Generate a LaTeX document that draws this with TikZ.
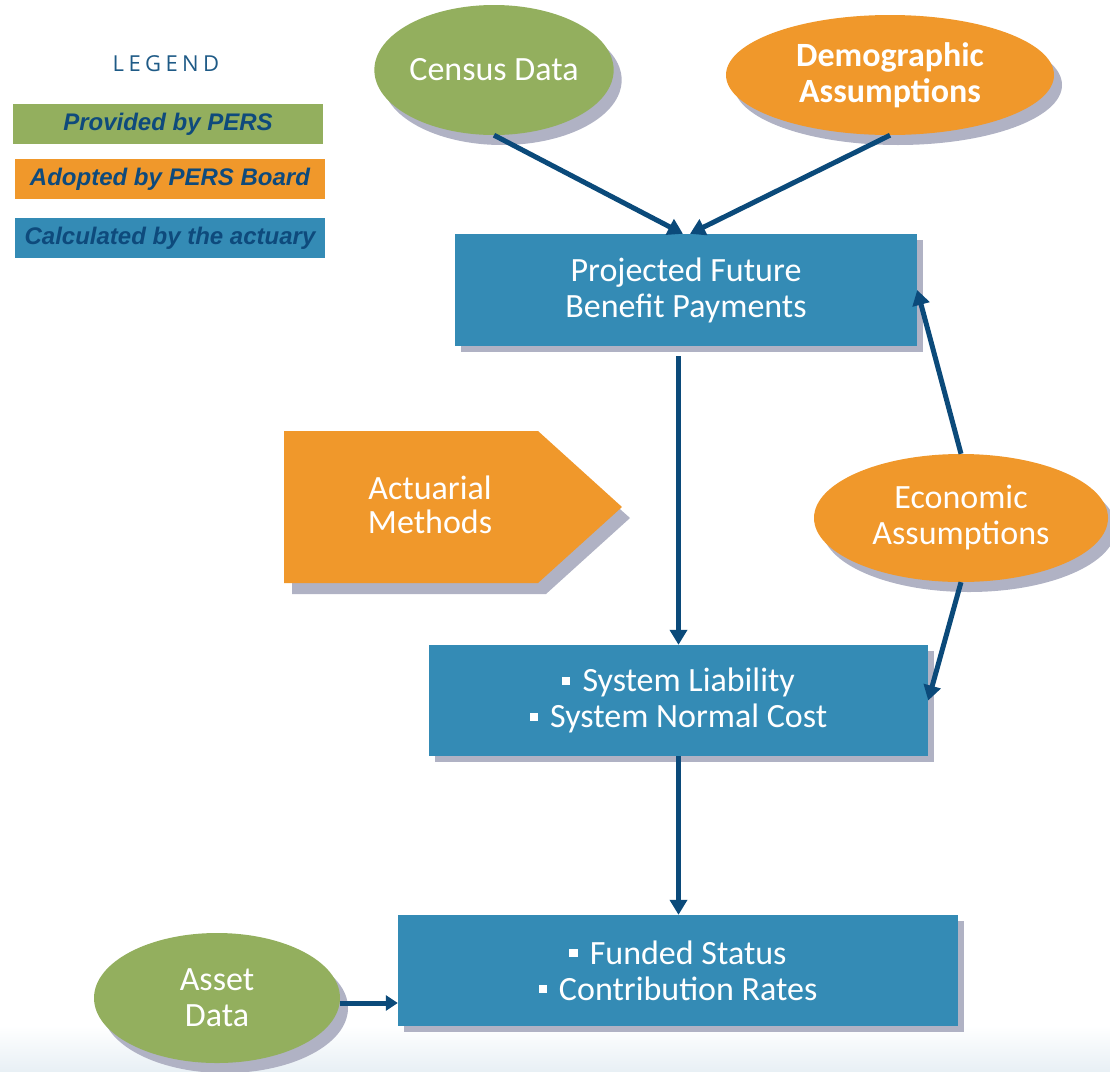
\documentclass[tikz,border=0pt]{standalone}
\usepackage{fontspec}
\setmainfont{Carlito}
\newfontfamily\arialfont{Liberation Sans}
\newfontfamily\legfont{Open Sans}[LetterSpace=20]
\usetikzlibrary{shapes.geometric,arrows.meta,shadows,calc}
\definecolor{greenc}{HTML}{93AF5E}
\definecolor{orangec}{HTML}{F0982B}
\definecolor{bluec}{HTML}{348BB5}
\definecolor{arrowc}{HTML}{0B4A7A}
\definecolor{shadowc}{HTML}{B0B2C4}
\definecolor{legtext}{HTML}{0E4A7C}
\definecolor{legtitle}{HTML}{1E5A86}
\definecolor{bgc}{HTML}{E8F0F5}
\newcommand{\bulsq}{\raisebox{0.2em}{\rule{0.24em}{0.24em}}\hspace{0.36em}}
\begin{document}
\begin{tikzpicture}[x=1pt,y=-1pt,
  eshad/.style={drop shadow={shadow xshift=8pt,shadow yshift=-10pt,fill=shadowc,opacity=1}},
  bshad/.style={drop shadow={shadow xshift=6pt,shadow yshift=-6pt,fill=shadowc,opacity=1}},
  ell/.style={ellipse,inner sep=0pt,text=white,align=center,font=\fontsize{34}{36}\selectfont,eshad},
  boxn/.style={rectangle,fill=bluec,inner sep=0pt,text=white,align=center,font=\fontsize{34}{36}\selectfont,bshad},
  legbox/.style={rectangle,inner sep=0pt,minimum width=310pt,minimum height=40pt,text=legtext,font=\arialfont\bfseries\itshape\fontsize{24}{26}\selectfont},
  arr/.style={draw=arrowc,line width=5pt,-{Triangle[width=17pt,length=15pt]}},
  arrs/.style={draw=arrowc,line width=5pt,-{Triangle[width=15pt,length=12pt]}}
]
\useasboundingbox (0,0) rectangle (1110,1071);
\shade[top color=white,bottom color=bgc] (0,1026) rectangle (1110,1071);

% legend
\node[text=legtitle,font=\legfont\fontsize{22}{24}\selectfont] (legt) at (166,64) {LEGEND};
\node[legbox,fill=greenc] (lg1) at (168,124) {Provided by PERS};
\node[legbox,fill=orangec] (lg2) at (170,179) {Adopted by PERS Board};
\node[legbox,fill=bluec] (lg3) at (170,238) {Calculated by the actuary};

% ellipses
\node[ell,fill=greenc,minimum width=234pt,minimum height=130pt] (census) at (494,70) {Census Data};
\node[ell,fill=orangec,minimum width=328pt,minimum height=120pt,font=\bfseries\fontsize{34}{36}\selectfont] (demo) at (890,75) {Demographic\\Assumptions};
\node[ell,fill=orangec,minimum width=294pt,minimum height=128pt] (eco) at (961,518) {Economic\\Assumptions};
\node[ell,fill=greenc,minimum width=246pt,minimum height=130pt] (asset) at (217,998) {Asset\\Data};

% boxes
\node[boxn,minimum width=462pt,minimum height=112pt] (proj) at (686,290) {Projected Future\\Benefit Payments};
\node[boxn,minimum width=499pt,minimum height=111pt] (sys) at (678.5,700.5) {\bulsq System Liability\\\bulsq System Normal Cost};
\node[boxn,minimum width=560pt,minimum height=111pt] (funded) at (678,970.5) {\bulsq Funded Status\\\bulsq Contribution Rates};

% actuarial methods pentagon
\fill[shadowc] (292,443) -- (546,443) -- (630,518) -- (546,594) -- (292,594) -- cycle;
\fill[orangec] (284,431) -- (538,431) -- (622,507) -- (538,583) -- (284,583) -- cycle;
\node[text=white,align=center,font=\fontsize{34}{34}\selectfont] (meth) at (430,505) {Actuarial\\Methods};

% connectors
\draw[arr] (census.south) -- ($(proj.north)+(-3,0)$);
\draw[arr] (demo.south) -- ($(proj.north)+(4,0)$);
\coordinate (pdown) at ($(sys.north |- proj.south)+(0,10)$);
\draw[arr] (pdown) -- (sys.north);
\draw[arr] (eco.north) -- (proj.east);
\draw[arr] (eco.south) -- (sys.east);
\draw[arr] (sys.south) -- (sys.south |- funded.north);
\coordinate (ae) at ($(asset.east)+(0,5)$);
\draw[arrs] (ae) -- (ae -| funded.west);
\end{tikzpicture}
\end{document}
